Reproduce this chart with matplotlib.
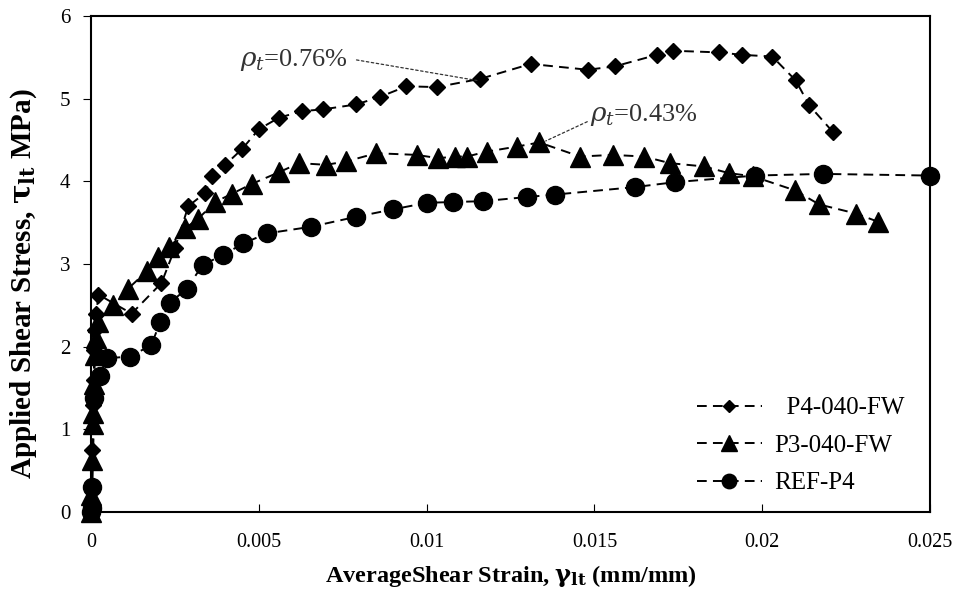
import matplotlib
matplotlib.use("Agg")
import matplotlib.pyplot as plt

# P4-040-FW (diamonds)
p4_x = [0, 0.00002, 0.00004, 0.00006, 0.00008, 0.0001, 0.00013, 0.00016, 0.00022,
        0.00121, 0.0021, 0.0025, 0.0029, 0.0034, 0.0036, 0.0040, 0.0045, 0.0050,
        0.0056, 0.0063, 0.0069, 0.0079, 0.0086, 0.0094, 0.0103, 0.0116, 0.0131,
        0.0148, 0.0156, 0.01686, 0.01733, 0.0187, 0.0194, 0.0203, 0.0210, 0.0214,
        0.0221]
p4_y = [0, 0.3, 0.75, 1.3, 1.6, 1.96, 2.2, 2.4, 2.63,
        2.40, 2.77, 3.19, 3.70, 3.86, 4.07, 4.20, 4.39, 4.63,
        4.77, 4.85, 4.87, 4.93, 5.02, 5.15, 5.14, 5.24, 5.42,
        5.35, 5.39, 5.53, 5.58, 5.56, 5.53, 5.51, 5.22, 4.92,
        4.60]

# P3-040-FW (triangles)
p3_x = [0, 0.00001, 0.00003, 0.00005, 0.00007, 0.00009, 0.00012, 0.00015, 0.0002,
        0.00066, 0.0011, 0.00166, 0.0020, 0.00232, 0.0028, 0.0032, 0.0037, 0.0042,
        0.0048, 0.0056, 0.0062, 0.0070, 0.0076, 0.0085, 0.0097, 0.01035, 0.01085,
        0.0112, 0.0118, 0.01268, 0.01336, 0.01457, 0.01554, 0.01648, 0.01725,
        0.01827, 0.0190, 0.01973, 0.02098, 0.0217, 0.0228, 0.02346]
p3_y = [0, 0.2, 0.63, 1.07, 1.2, 1.55, 1.9, 2.1, 2.3,
        2.50, 2.70, 2.91, 3.09, 3.21, 3.43, 3.55, 3.75, 3.85,
        3.97, 4.11, 4.22, 4.20, 4.24, 4.34, 4.32, 4.28, 4.30,
        4.30, 4.36, 4.42, 4.47, 4.30, 4.32, 4.30, 4.22,
        4.18, 4.10, 4.06, 3.89, 3.72, 3.61, 3.51]

# REF-P4 (circles)
ref_x = [0, 0.00002, 0.00004, 0.0001, 0.00027, 0.00047, 0.00116, 0.0018, 0.00206,
         0.00235, 0.00285, 0.00333, 0.00394, 0.00454, 0.00524, 0.00655, 0.00789,
         0.00899, 0.0100, 0.01078, 0.01169, 0.01298, 0.01383, 0.0162, 0.0174,
         0.0198, 0.0218, 0.0250]
ref_y = [0, 0.05, 0.3, 1.38, 1.64, 1.86, 1.88, 2.02, 2.30,
         2.53, 2.70, 2.99, 3.11, 3.25, 3.37, 3.45, 3.57,
         3.66, 3.74, 3.75, 3.76, 3.81, 3.84, 3.93, 3.99,
         4.07, 4.09, 4.07]

x_ticks = [0, 0.005, 0.01, 0.015, 0.02, 0.025]
x_tick_labels = ["0", "0.005", "0.01", "0.015", "0.02", "0.025"]
y_ticks = [0, 1, 2, 3, 4, 5, 6]

plt.rcParams["font.family"] = ["Liberation Serif", "DejaVu Serif"]
plt.rcParams["mathtext.fontset"] = "dejavuserif"

fig = plt.figure(figsize=(9.56, 5.93), dpi=100)
ax = fig.add_axes([0.0952, 0.1366, 0.8776, 0.8364])

dash = (0, (5, 3.2))
ax.plot(p4_x, p4_y, linestyle=dash, color="black", lw=1.4, marker="D",
        ms=8, label="  P4-040-FW", clip_on=False, zorder=3)
ax.plot(p3_x, p3_y, linestyle=dash, color="black", lw=1.4, marker="^",
        ms=14, label="P3-040-FW", clip_on=False, zorder=3)
ax.plot(ref_x, ref_y, linestyle=dash, color="black", lw=1.4, marker="o",
        ms=13, label="REF-P4", clip_on=False, zorder=3)

ax.set_xlim(0, 0.025)
ax.set_ylim(0, 6)
ax.set_xticks(x_ticks)
ax.set_xticklabels(x_tick_labels)
ax.set_yticks(y_ticks)
ax.tick_params(axis="x", direction="in", length=6, labelsize=14.5, pad=15)
ax.tick_params(axis="y", direction="out", length=6, labelsize=15, pad=9)
for s in ax.spines.values():
    s.set_linewidth(1.5)

ax.set_xlabel(r"AverageShear Strain, $\mathbf{\gamma_{lt}}$ (mm/mm)",
              fontsize=17.5, fontweight="bold", labelpad=8)
ax.set_ylabel(r"Applied Shear Stress, $\mathbf{\tau_{lt}}$ MPa)",
              fontsize=21, fontweight="bold")
ax.yaxis.set_label_coords(-0.062, 0.46)

# annotations
ax.annotate(r"$\rho_t$=0.76%", xy=(0.0115, 5.22), xytext=(0.00445, 5.47),
            fontsize=19, color="#333333", va="center", ha="left",
            arrowprops=dict(arrowstyle="-", linestyle=(0, (2, 2)), lw=0.9,
                            color="#333333", shrinkA=4, shrinkB=0,
                            relpos=(1.0, 0.55)))
ax.annotate(r"$\rho_t$=0.43%", xy=(0.0134, 4.46), xytext=(0.01487, 4.80),
            fontsize=19, color="#333333", va="center", ha="left",
            arrowprops=dict(arrowstyle="-", linestyle=(0, (2, 2)), lw=0.9,
                            color="#333333", shrinkA=0, shrinkB=4,
                            relpos=(0.0, 0.3)))

ax.legend(loc="lower right", bbox_to_anchor=(0.997, -0.01), frameon=False,
          fontsize=18, handlelength=2.6, labelspacing=0.6, handletextpad=0.5,
          markerscale=0.8)

fig.savefig("out.png", dpi=100, facecolor="white")
